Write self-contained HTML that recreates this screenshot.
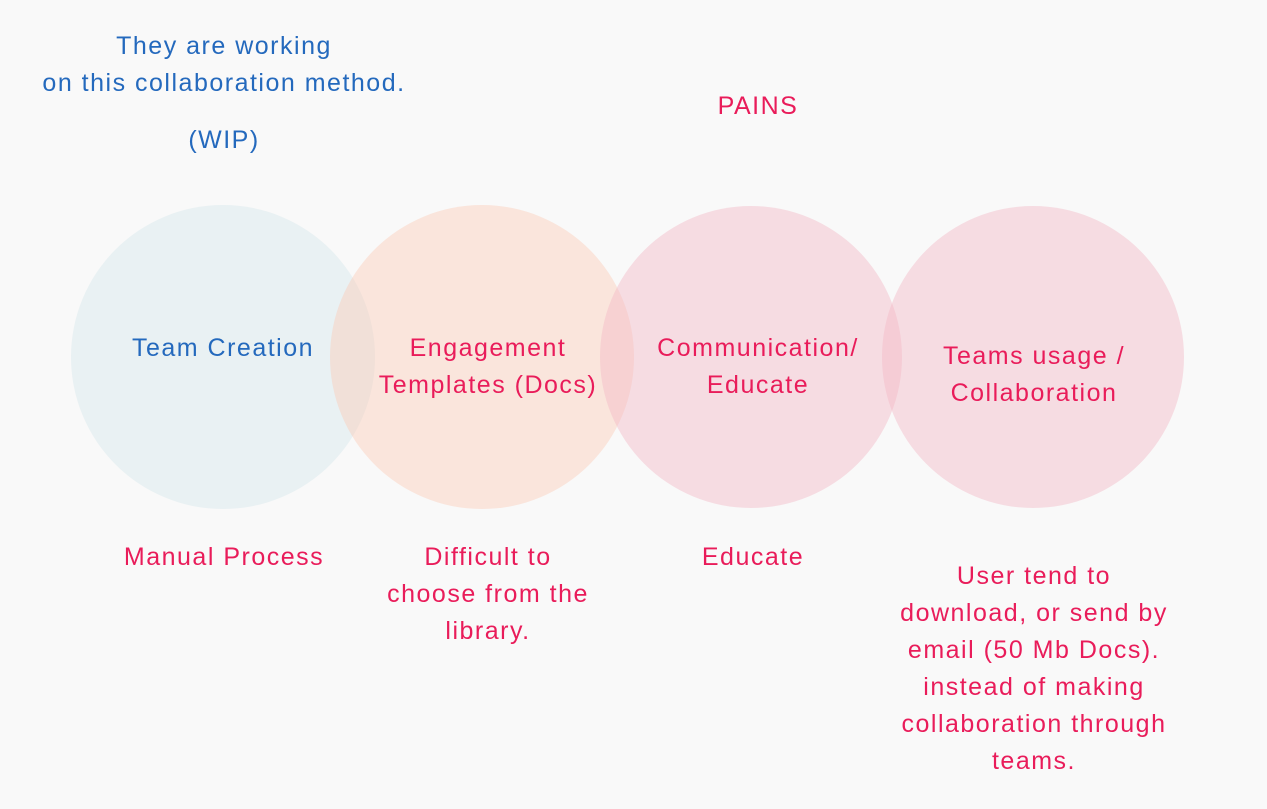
<!DOCTYPE html>
<html><head><meta charset="utf-8"><style>
body{margin:0;width:1267px;height:809px;background:#f9f9f9;position:relative;overflow:hidden;font-family:"Liberation Sans",sans-serif;font-size:25px;letter-spacing:1.5px}
.t{position:absolute;text-align:center;line-height:37px;white-space:nowrap;transform:translateX(-50%)}
.b{color:#2469bd}.r{color:#e91c5a}
</style></head><body>
<svg width="1267" height="809" style="position:absolute;left:0;top:0">
<circle cx="223" cy="357" r="152" fill="rgb(213,230,234)" fill-opacity="0.45"/>
<circle cx="482" cy="357" r="152" fill="rgb(250,205,185)" fill-opacity="0.45"/>
<circle cx="751" cy="357" r="151" fill="rgb(244,180,196)" fill-opacity="0.42"/>
<circle cx="1033" cy="357" r="151" fill="rgb(244,180,196)" fill-opacity="0.42"/>
</svg>
<div class="t b" style="left:224px;top:28px">They are working<br>on this collaboration method.</div>
<div class="t b" style="left:224px;top:122px">(WIP)</div>
<div class="t r" style="left:758px;top:88px">PAINS</div>
<div class="t b" style="left:223px;top:330px">Team Creation</div>
<div class="t r" style="left:488px;top:330px">Engagement<br>Templates (Docs)</div>
<div class="t r" style="left:758px;top:330px">Communication/<br>Educate</div>
<div class="t r" style="left:1034px;top:338px">Teams usage /<br>Collaboration</div>
<div class="t r" style="left:224px;top:539px">Manual Process</div>
<div class="t r" style="left:488px;top:539px">Difficult to<br>choose from the<br>library.</div>
<div class="t r" style="left:753px;top:539px">Educate</div>
<div class="t r" style="left:1034px;top:558px">User tend to<br>download, or send by<br>email (50 Mb Docs).<br>instead of making<br>collaboration through<br>teams.</div>
</body></html>
